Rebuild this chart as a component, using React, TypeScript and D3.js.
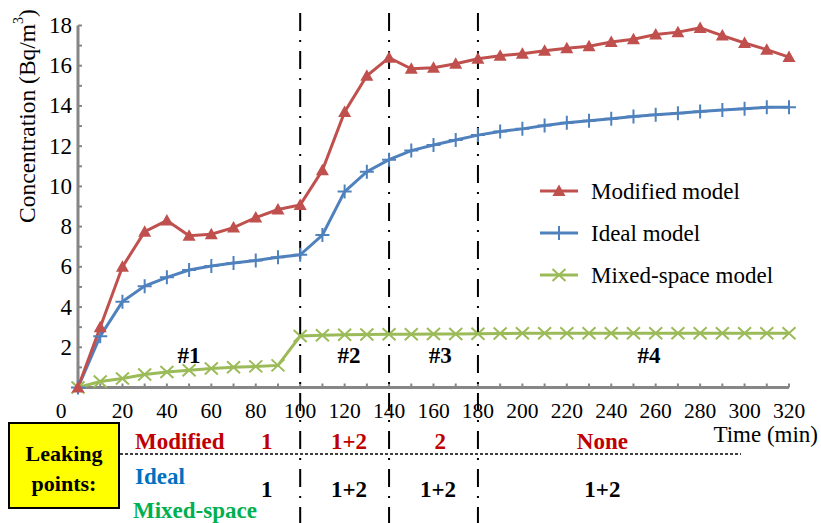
import React from "react";
import * as d3 from "d3";

const times = d3.range(0, 330, 10);
const modified = [0, 3.0, 6.0, 7.75, 8.3, 7.55, 7.62, 7.95, 8.45, 8.85, 9.08, 10.8, 13.7, 15.5, 16.4, 15.85, 15.9, 16.1, 16.35, 16.5, 16.6, 16.75, 16.87, 16.97, 17.18, 17.32, 17.55, 17.67, 17.88, 17.5, 17.13, 16.8, 16.43];
const ideal = [0, 2.55, 4.27, 5.04, 5.48, 5.84, 6.04, 6.19, 6.32, 6.48, 6.6, 7.58, 9.74, 10.73, 11.33, 11.78, 12.06, 12.31, 12.55, 12.73, 12.86, 13.03, 13.16, 13.26, 13.36, 13.47, 13.56, 13.64, 13.72, 13.8, 13.86, 13.93, 13.94];
const mixed = [0, 0.3, 0.45, 0.65, 0.77, 0.86, 0.94, 1.01, 1.05, 1.1, 2.56, 2.6, 2.62, 2.63, 2.65, 2.65, 2.66, 2.66, 2.67, 2.68, 2.7, 2.7, 2.7, 2.7, 2.7, 2.7, 2.7, 2.7, 2.7, 2.7, 2.7, 2.7, 2.7];

const xTicks = d3.range(0, 340, 20);
const yTicks = d3.range(2, 20, 2);
const dividers = [100, 140, 180];
const regions = [{ label: "#1", t: 50 }, { label: "#2", t: 122 }, { label: "#3", t: 163 }, { label: "#4", t: 257 }];
const modifiedLeak = [{ t: 85, s: "1" }, { t: 122, s: "1+2" }, { t: 163, s: "2" }, { t: 236, s: "None" }];
const idealLeak = [{ t: 85, s: "1" }, { t: 122, s: "1+2" }, { t: 162, s: "1+2" }, { t: 236, s: "1+2" }];

const RED = "#C0504D";
const BLUE = "#4F81BD";
const GREEN = "#9BBB59";
const AXIS = "#868686";

const x = d3.scaleLinear().domain([0, 320]).range([78, 789]);
const y = d3.scaleLinear().domain([0, 18]).range([387.5, 25.5]);

function Tri({ cx, cy }: { cx: number; cy: number }) {
  return <path d={`M${cx},${cy - 6.5} L${cx + 6.5},${cy + 5} L${cx - 6.5},${cy + 5} Z`} fill={RED} />;
}
function Plus({ cx, cy }: { cx: number; cy: number }) {
  return <path d={`M${cx - 7},${cy} H${cx + 7} M${cx},${cy - 7} V${cy + 7}`} stroke={BLUE} strokeWidth={2} />;
}
function Cross({ cx, cy }: { cx: number; cy: number }) {
  return <path d={`M${cx - 6.5},${cy - 6} L${cx + 6.5},${cy + 6} M${cx - 6.5},${cy + 6} L${cx + 6.5},${cy - 6}`} stroke={GREEN} strokeWidth={2} />;
}

function T(props: any) {
  const { children, style, ...rest } = props;
  return (
    <text fontFamily="Liberation Serif" style={{ fontFamily: '"Liberation Serif"', ...(style || {}) }} fill="#000" dominantBaseline="central" {...rest}>
      {children}
    </text>
  );
}

export default function App() {
  const line = d3.line<number>().x((_, i) => x(times[i])).y((d) => y(d));
  const minorX = d3.range(10, 330, 10);
  const minorY = d3.range(1, 19, 1);
  return (
    <svg width={821} height={523} style={{ position: "absolute", left: 0, top: 0, background: "#fff" }}>
      {/* axes */}
      <line x1={x(0)} x2={x(0)} y1={y(18)} y2={y(0) + 1} stroke={AXIS} strokeWidth={3} />
      <line x1={x(0) - 1} x2={x(320)} y1={y(0)} y2={y(0)} stroke={AXIS} strokeWidth={3} />
      {minorY.map((v) => (
        <line key={"my" + v} x1={x(0)} x2={x(0) + 4} y1={y(v)} y2={y(v)} stroke={AXIS} strokeWidth={2} />
      ))}
      {minorX.map((t) => (
        <line key={"mx" + t} x1={x(t)} x2={x(t)} y1={y(0)} y2={y(0) - 4} stroke={AXIS} strokeWidth={2} />
      ))}
      {yTicks.map((v) => (
        <T key={"yt" + v} x={72} y={y(v)} textAnchor="end" fontSize={23}>{v}</T>
      ))}
      {xTicks.map((t) => (
        <T key={"xt" + t} x={t === 0 ? x(t) - 17 : x(t)} y={411} textAnchor="middle" fontSize={21.5}>{t}</T>
      ))}
      <T transform="translate(27,116) rotate(-90)" textAnchor="middle" fontSize={23.5}>
        Concentration (Bq/m<tspan dy={-9} fontSize={14}>3</tspan><tspan dy={9}>)</tspan>
      </T>
      <T x={818} y={434} textAnchor="end" fontSize={23}>Time (min)</T>

      {/* dividers */}
      {dividers.map((t) => (
        <line key={"dv" + t} x1={x(t)} x2={x(t)} y1={13} y2={523} stroke="#000" strokeWidth={2} strokeDasharray="18 9 2 9" />
      ))}

      {/* series */}
      <path d={line(mixed) || ""} fill="none" stroke={GREEN} strokeWidth={3} />
      <path d={line(ideal) || ""} fill="none" stroke={BLUE} strokeWidth={3} />
      <path d={line(modified) || ""} fill="none" stroke={RED} strokeWidth={3} />
      {mixed.map((v, i) => <Cross key={"c" + i} cx={x(times[i])} cy={y(v)} />)}
      {ideal.map((v, i) => <Plus key={"p" + i} cx={x(times[i])} cy={y(v)} />)}
      {modified.map((v, i) => <Tri key={"t" + i} cx={x(times[i])} cy={y(v)} />)}

      {/* region labels */}
      {regions.map((r) => (
        <T key={r.label} x={x(r.t)} y={355} textAnchor="middle" fontSize={23} fontWeight="bold">{r.label}</T>
      ))}

      {/* legend */}
      {[
        { name: "Modified model", c: RED, M: Tri, yy: 191 },
        { name: "Ideal model", c: BLUE, M: Plus, yy: 233 },
        { name: "Mixed-space model", c: GREEN, M: Cross, yy: 275 },
      ].map((l) => (
        <g key={l.name}>
          <line x1={540} x2={578} y1={l.yy} y2={l.yy} stroke={l.c} strokeWidth={3} />
          <l.M cx={559} cy={l.yy} />
          <T x={591} y={l.yy} fontSize={23}>{l.name}</T>
        </g>
      ))}

      {/* leaking points table */}
      <rect x={9} y={423} width={110} height={85} fill="#FFFF00" stroke="#000" strokeWidth={2} />
      <T x={64} y={453} textAnchor="middle" fontSize={22} fontWeight="bold">Leaking</T>
      <T x={64} y={483} textAnchor="middle" fontSize={22} fontWeight="bold">points:</T>
      <line x1={120} x2={741} y1={454} y2={454} stroke="#000" strokeWidth={1.5} strokeDasharray="3 2" />
      <T x={135} y={441} fontSize={23} fontWeight="bold" fill="#C00000">Modified</T>
      <T x={135} y={476} fontSize={23} fontWeight="bold" fill="#0070C0">Ideal</T>
      <T x={133} y={510} fontSize={23} fontWeight="bold" fill="#00B050">Mixed-space</T>
      {modifiedLeak.map((m) => (
        <T key={"ml" + m.t} x={x(m.t)} y={441} textAnchor="middle" fontSize={23} fontWeight="bold" fill="#C00000">{m.s}</T>
      ))}
      {idealLeak.map((m) => (
        <T key={"il" + m.t} x={x(m.t)} y={489} textAnchor="middle" fontSize={23} fontWeight="bold">{m.s}</T>
      ))}
    </svg>
  );
}
